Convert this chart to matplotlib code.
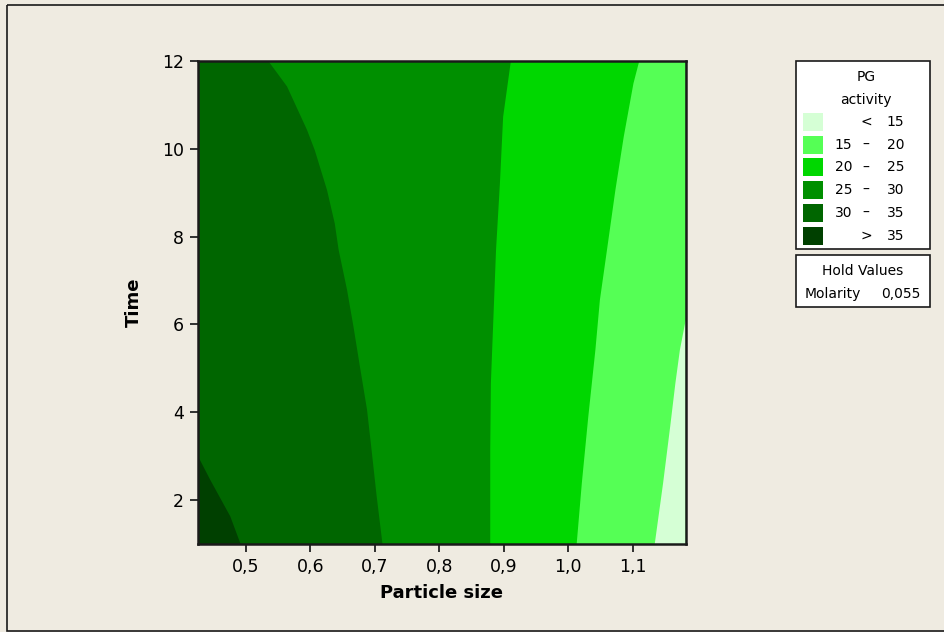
import numpy as np
import matplotlib
matplotlib.use("Agg")
import matplotlib.pyplot as plt
from matplotlib.patches import Rectangle

plt.rcParams['font.family'] = ['DejaVu Sans']

# axis ranges / ticks
x_min, x_max = 0.426, 1.182
y_min, y_max = 1.0, 12.0
x_ticks = [0.5, 0.6, 0.7, 0.8, 0.9, 1.0, 1.1]
x_labels = ['0,5', '0,6', '0,7', '0,8', '0,9', '1,0', '1,1']
y_ticks = [2, 4, 6, 8, 10, 12]

# contour boundaries (Particle size, Time)
b35_x = [0.426, 0.445, 0.476, 0.492]
b35_y = [3.00, 2.46, 1.63, 1.00]

b30_x = [0.535, 0.564, 0.595, 0.607, 0.626, 0.638, 0.644, 0.657, 0.667, 0.677, 0.688, 0.695, 0.703, 0.712]
b30_y = [12.0, 11.42, 10.43, 9.97, 9.06, 8.30, 7.70, 6.79, 5.95, 5.04, 4.06, 3.15, 2.08, 1.00]

b25_x = [0.911, 0.899, 0.894, 0.888, 0.884, 0.880, 0.879, 0.879]
b25_y = [12.0, 10.73, 9.21, 7.70, 6.18, 4.66, 3.15, 1.00]

b20_x = [1.110, 1.101, 1.086, 1.073, 1.060, 1.049, 1.042, 1.031, 1.021, 1.013]
b20_y = [12.0, 11.49, 10.28, 9.06, 7.70, 6.56, 5.42, 3.90, 2.39, 1.00]

b15_x = [1.182, 1.173, 1.166, 1.158, 1.147, 1.134]
b15_y = [6.10, 5.42, 4.66, 3.68, 2.39, 1.00]

# legend
level_lo = ['', '15', '20', '25', '30', '']
level_mid = ['<', '–', '–', '–', '–', '>']
level_hi = ['15', '20', '25', '30', '35', '35']
colors = ['#D5FFD5', '#55FF55', '#00D700', '#008F00', '#006600', '#004000']
hold_name = 'Molarity'
hold_value = '0,055'

bg = '#EFEBE1'

fig = plt.figure(figsize=(9.44, 6.32), dpi=100, facecolor=bg)

# overlay in pixel coords for frame and legend
ov = fig.add_axes([0, 0, 1, 1])
ov.set_xlim(0, 944)
ov.set_ylim(632, 0)
ov.axis('off')
ov.add_patch(Rectangle((7, 5), 960, 626, fill=False, ec='#1a1a1a', lw=1.2))

ax = fig.add_axes([198 / 944, 88 / 632, 487.7 / 944, 483 / 632])
ax.set_xlim(x_min, x_max)
ax.set_ylim(y_min, y_max)

# layered fills: each region = everything to the right of a boundary
ax.fill([x_min, x_max, x_max, x_min], [y_min, y_min, y_max, y_max], color=colors[5], lw=0)
ax.fill([x_min] + b35_x + [x_max, x_max, x_min],
        [y_max] + b35_y + [y_min, y_max, y_max], color=colors[4], lw=0)
ax.fill(b30_x + [x_max, x_max], b30_y + [y_min, y_max], color=colors[3], lw=0)
ax.fill(b25_x + [x_max, x_max], b25_y + [y_min, y_max], color=colors[2], lw=0)
ax.fill(b20_x + [x_max, x_max], b20_y + [y_min, y_max], color=colors[1], lw=0)
ax.fill(b15_x + [x_max], b15_y + [y_min], color=colors[0], lw=0)

ax.set_xticks(x_ticks)
ax.set_xticklabels(x_labels)
ax.set_yticks(y_ticks)
ax.tick_params(direction='out', length=6, width=1.3, labelsize=12.5, pad=4, color='#222222')
for s in ax.spines.values():
    s.set_linewidth(1.8)
    s.set_color('#1a1a1a')
ax.set_xlabel('Particle size', fontsize=13, fontweight='bold', labelpad=6)
ax.set_ylabel('Time', fontsize=13, fontweight='bold', labelpad=14)

# legend box
fs = 10
ov.add_patch(Rectangle((796, 61), 134, 188, fill=True, fc='white', ec='#1a1a1a', lw=1.2))
ov.text(866, 77, 'PG', ha='center', va='center', fontsize=fs)
ov.text(866, 100, 'activity', ha='center', va='center', fontsize=fs)
for i, c in enumerate(colors):
    yc = 122 + i * 22.7
    ov.add_patch(Rectangle((803, yc - 9), 19.5, 18, fc=c, ec='none'))
    ov.text(852, yc, level_lo[i], ha='right', va='center', fontsize=fs)
    ov.text(866, yc, level_mid[i], ha='center', va='center', fontsize=fs)
    ov.text(904, yc, level_hi[i], ha='right', va='center', fontsize=fs)

ov.add_patch(Rectangle((796, 255), 134, 52, fill=True, fc='white', ec='#1a1a1a', lw=1.2))
ov.text(863, 271, 'Hold Values', ha='center', va='center', fontsize=fs)
ov.text(805, 294, hold_name, ha='left', va='center', fontsize=fs)
ov.text(921, 294, hold_value, ha='right', va='center', fontsize=fs)

fig.savefig('out.png', dpi=100, facecolor=bg)
